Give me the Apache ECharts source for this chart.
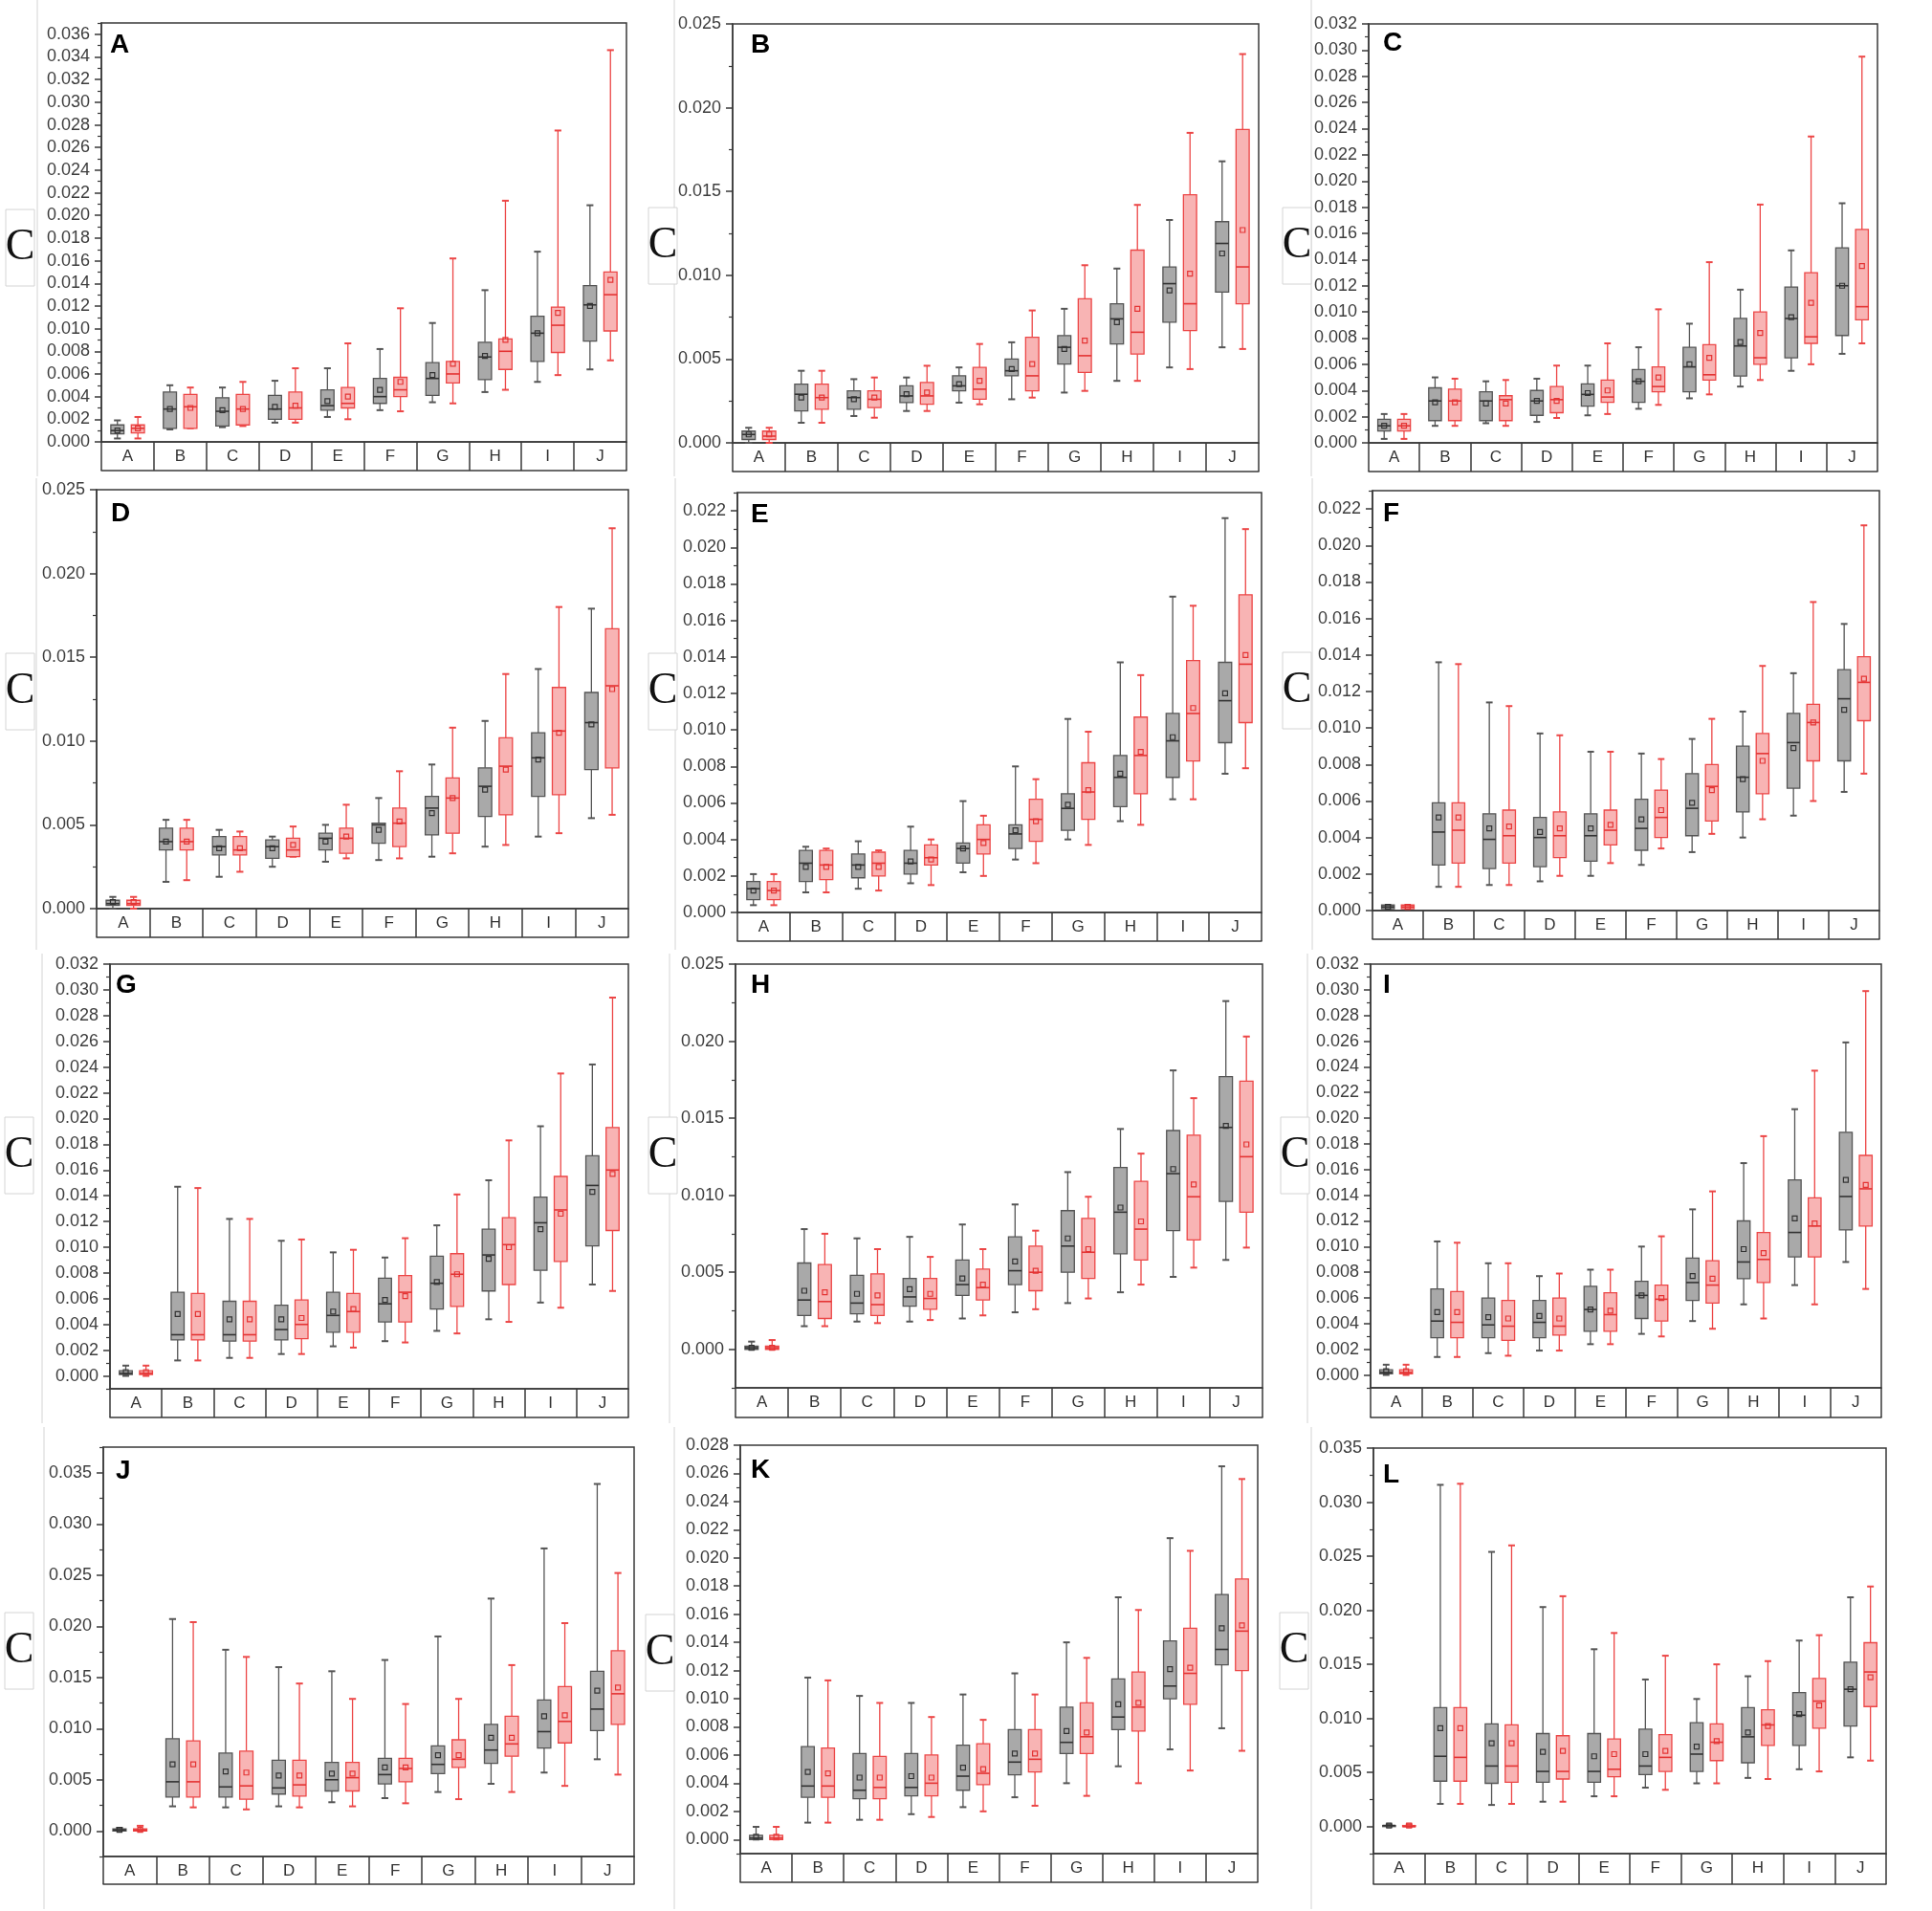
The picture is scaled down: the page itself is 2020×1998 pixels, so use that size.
<!DOCTYPE html>
<html>
<head>
<meta charset="utf-8">
<title>Box plots A-L</title>
<script src="https://cdn.jsdelivr.net/npm/echarts@6/dist/echarts.min.js"></script>
<style>
  html, body { margin: 0; padding: 0; background: #fff; }
  #chart { width: 2020px; height: 1998px; }
</style>
</head>
<body>
<div id="chart"></div>
<script>
'use strict';

var categories = ['A', 'B', 'C', 'D', 'E', 'F', 'G', 'H', 'I', 'J'];
var panelNames = ['A', 'B', 'C', 'D', 'E', 'F', 'G', 'H', 'I', 'J', 'K', 'L'];

// one row per category: [min, q1, median, q3, max, mean]
var grayA = [[0.0003,0.0007,0.0010,0.0015,0.0019,0.0010],[0.0011,0.0012,0.0029,0.0044,0.0050,0.0029],[0.0013,0.0014,0.0027,0.0039,0.0048,0.0028],[0.0017,0.0020,0.0029,0.0041,0.0054,0.0031],[0.0022,0.0028,0.0032,0.0046,0.0065,0.0036],[0.0028,0.0034,0.0040,0.0056,0.0082,0.0046],[0.0035,0.0041,0.0056,0.0070,0.0105,0.0059],[0.0044,0.0055,0.0075,0.0088,0.0134,0.0076],[0.0053,0.0071,0.0096,0.0111,0.0168,0.0096],[0.0064,0.0089,0.0121,0.0138,0.0209,0.0120]];
var redA = [[0.0003,0.0008,0.0012,0.0015,0.0022,0.0012],[0.0012,0.0012,0.0031,0.0042,0.0048,0.0030],[0.0014,0.0015,0.0029,0.0042,0.0053,0.0029],[0.0017,0.0020,0.0030,0.0044,0.0065,0.0032],[0.0020,0.0030,0.0034,0.0048,0.0087,0.0040],[0.0027,0.0040,0.0046,0.0057,0.0118,0.0053],[0.0034,0.0052,0.0060,0.0071,0.0162,0.0069],[0.0046,0.0064,0.0080,0.0091,0.0213,0.0090],[0.0059,0.0079,0.0103,0.0119,0.0275,0.0114],[0.0072,0.0098,0.0130,0.0150,0.0346,0.0143]];

var grayB = [[0.0000,0.0002,0.0005,0.0007,0.0009,0.0005],[0.0012,0.0019,0.0029,0.0035,0.0043,0.0027],[0.0016,0.0020,0.0027,0.0031,0.0038,0.0026],[0.0019,0.0024,0.0028,0.0034,0.0039,0.0029],[0.0024,0.0031,0.0034,0.0040,0.0045,0.0035],[0.0026,0.0040,0.0043,0.0050,0.0060,0.0044],[0.0030,0.0047,0.0057,0.0064,0.0080,0.0056],[0.0037,0.0059,0.0074,0.0083,0.0104,0.0072],[0.0045,0.0072,0.0095,0.0105,0.0133,0.0091],[0.0057,0.0090,0.0119,0.0132,0.0168,0.0113]];
var redB = [[0.0000,0.0002,0.0004,0.0007,0.0009,0.0005],[0.0012,0.0020,0.0027,0.0035,0.0043,0.0027],[0.0015,0.0021,0.0026,0.0031,0.0039,0.0027],[0.0019,0.0023,0.0028,0.0036,0.0046,0.0030],[0.0023,0.0026,0.0032,0.0045,0.0059,0.0037],[0.0027,0.0031,0.0040,0.0063,0.0079,0.0047],[0.0031,0.0042,0.0052,0.0086,0.0106,0.0061],[0.0037,0.0053,0.0066,0.0115,0.0142,0.0080],[0.0044,0.0067,0.0083,0.0148,0.0185,0.0101],[0.0056,0.0083,0.0105,0.0187,0.0232,0.0127]];

var grayC = [[0.0003,0.0009,0.0013,0.0018,0.0022,0.0013],[0.0013,0.0017,0.0032,0.0042,0.0050,0.0031],[0.0015,0.0017,0.0032,0.0039,0.0047,0.0030],[0.0016,0.0021,0.0032,0.0040,0.0049,0.0032],[0.0021,0.0028,0.0037,0.0045,0.0059,0.0038],[0.0026,0.0031,0.0047,0.0056,0.0073,0.0047],[0.0034,0.0039,0.0058,0.0073,0.0091,0.0060],[0.0043,0.0051,0.0074,0.0095,0.0117,0.0077],[0.0055,0.0065,0.0095,0.0119,0.0147,0.0096],[0.0068,0.0082,0.0120,0.0149,0.0183,0.0120]];
var redC = [[0.0003,0.0009,0.0013,0.0018,0.0022,0.0013],[0.0013,0.0017,0.0032,0.0041,0.0049,0.0031],[0.0013,0.0017,0.0033,0.0036,0.0048,0.0030],[0.0019,0.0023,0.0033,0.0043,0.0059,0.0032],[0.0022,0.0031,0.0035,0.0048,0.0076,0.0040],[0.0029,0.0039,0.0043,0.0058,0.0102,0.0050],[0.0037,0.0048,0.0052,0.0075,0.0138,0.0065],[0.0048,0.0060,0.0065,0.0100,0.0182,0.0084],[0.0060,0.0076,0.0081,0.0130,0.0234,0.0107],[0.0076,0.0094,0.0104,0.0163,0.0295,0.0135]];

var grayD = [[0.0000,0.0002,0.0003,0.0005,0.0007,0.0004],[0.0016,0.0035,0.0040,0.0048,0.0053,0.0040],[0.0019,0.0032,0.0037,0.0043,0.0047,0.0036],[0.0025,0.0030,0.0037,0.0041,0.0043,0.0036],[0.0028,0.0035,0.0042,0.0045,0.0050,0.0040],[0.0029,0.0039,0.0050,0.0051,0.0066,0.0047],[0.0031,0.0044,0.0060,0.0067,0.0086,0.0057],[0.0037,0.0055,0.0073,0.0084,0.0112,0.0071],[0.0043,0.0067,0.0090,0.0105,0.0143,0.0089],[0.0054,0.0083,0.0111,0.0129,0.0179,0.0110]];
var redD = [[0.0000,0.0002,0.0003,0.0005,0.0007,0.0004],[0.0017,0.0035,0.0040,0.0048,0.0053,0.0040],[0.0022,0.0032,0.0035,0.0043,0.0046,0.0036],[0.0031,0.0031,0.0035,0.0042,0.0049,0.0038],[0.0030,0.0033,0.0042,0.0048,0.0062,0.0043],[0.0030,0.0037,0.0051,0.0060,0.0082,0.0052],[0.0033,0.0045,0.0066,0.0078,0.0108,0.0066],[0.0038,0.0056,0.0085,0.0102,0.0140,0.0083],[0.0045,0.0068,0.0106,0.0132,0.0180,0.0105],[0.0056,0.0084,0.0133,0.0167,0.0227,0.0131]];

var grayE = [[0.0004,0.0007,0.0013,0.0017,0.0021,0.0012],[0.0011,0.0017,0.0027,0.0034,0.0036,0.0025],[0.0013,0.0019,0.0026,0.0032,0.0039,0.0025],[0.0016,0.0021,0.0027,0.0034,0.0047,0.0028],[0.0022,0.0027,0.0035,0.0038,0.0061,0.0035],[0.0029,0.0035,0.0043,0.0048,0.0080,0.0045],[0.0040,0.0045,0.0057,0.0065,0.0106,0.0059],[0.0050,0.0058,0.0074,0.0086,0.0137,0.0076],[0.0062,0.0074,0.0094,0.0109,0.0173,0.0096],[0.0076,0.0093,0.0116,0.0137,0.0216,0.0120]];
var redE = [[0.0004,0.0007,0.0012,0.0017,0.0021,0.0012],[0.0011,0.0018,0.0026,0.0034,0.0035,0.0025],[0.0012,0.0020,0.0027,0.0033,0.0034,0.0025],[0.0015,0.0026,0.0030,0.0037,0.0040,0.0029],[0.0020,0.0032,0.0040,0.0048,0.0053,0.0038],[0.0027,0.0039,0.0051,0.0062,0.0073,0.0050],[0.0037,0.0051,0.0066,0.0082,0.0099,0.0067],[0.0048,0.0065,0.0086,0.0107,0.0130,0.0088],[0.0062,0.0083,0.0109,0.0138,0.0168,0.0112],[0.0079,0.0104,0.0136,0.0174,0.0210,0.0141]];

var grayF = [[0.0001,0.0001,0.0002,0.0003,0.0003,0.0002],[0.0013,0.0025,0.0043,0.0059,0.0136,0.0051],[0.0014,0.0023,0.0039,0.0053,0.0114,0.0045],[0.0016,0.0024,0.0040,0.0051,0.0097,0.0043],[0.0019,0.0027,0.0041,0.0053,0.0087,0.0045],[0.0025,0.0033,0.0045,0.0061,0.0086,0.0050],[0.0032,0.0041,0.0056,0.0075,0.0094,0.0059],[0.0040,0.0054,0.0073,0.0090,0.0109,0.0072],[0.0052,0.0067,0.0092,0.0108,0.0130,0.0089],[0.0065,0.0082,0.0116,0.0132,0.0157,0.0110]];
var redF = [[0.0001,0.0001,0.0002,0.0003,0.0003,0.0002],[0.0013,0.0026,0.0044,0.0059,0.0135,0.0051],[0.0014,0.0026,0.0041,0.0055,0.0112,0.0046],[0.0019,0.0029,0.0041,0.0054,0.0096,0.0045],[0.0026,0.0036,0.0044,0.0055,0.0087,0.0047],[0.0034,0.0040,0.0051,0.0066,0.0083,0.0055],[0.0042,0.0049,0.0068,0.0080,0.0105,0.0066],[0.0050,0.0064,0.0086,0.0097,0.0134,0.0082],[0.0060,0.0082,0.0103,0.0113,0.0169,0.0103],[0.0075,0.0104,0.0125,0.0139,0.0211,0.0127]];

var grayG = [[0.0000,0.0001,0.0002,0.0004,0.0008,0.0003],[0.0012,0.0028,0.0032,0.0065,0.0147,0.0048],[0.0014,0.0027,0.0032,0.0058,0.0122,0.0044],[0.0017,0.0028,0.0036,0.0055,0.0105,0.0044],[0.0023,0.0034,0.0047,0.0065,0.0096,0.0050],[0.0027,0.0042,0.0056,0.0076,0.0092,0.0059],[0.0035,0.0052,0.0072,0.0093,0.0117,0.0073],[0.0044,0.0066,0.0094,0.0114,0.0152,0.0091],[0.0057,0.0082,0.0119,0.0139,0.0194,0.0114],[0.0071,0.0101,0.0148,0.0171,0.0242,0.0143]];
var redG = [[0.0000,0.0001,0.0002,0.0004,0.0008,0.0003],[0.0012,0.0028,0.0032,0.0064,0.0146,0.0048],[0.0014,0.0027,0.0032,0.0058,0.0122,0.0044],[0.0017,0.0029,0.0040,0.0059,0.0106,0.0045],[0.0022,0.0034,0.0050,0.0064,0.0098,0.0052],[0.0026,0.0042,0.0065,0.0078,0.0107,0.0062],[0.0033,0.0054,0.0079,0.0095,0.0141,0.0079],[0.0042,0.0071,0.0102,0.0123,0.0183,0.0100],[0.0053,0.0089,0.0129,0.0155,0.0235,0.0126],[0.0066,0.0113,0.0160,0.0193,0.0294,0.0157]];

var grayH = [[0.0000,0.0000,0.0001,0.0002,0.0005,0.0001],[0.0015,0.0022,0.0032,0.0056,0.0078,0.0038],[0.0018,0.0023,0.0030,0.0048,0.0072,0.0036],[0.0018,0.0028,0.0034,0.0046,0.0073,0.0039],[0.0020,0.0035,0.0042,0.0058,0.0081,0.0046],[0.0024,0.0042,0.0051,0.0073,0.0094,0.0057],[0.0030,0.0050,0.0067,0.0090,0.0115,0.0072],[0.0037,0.0062,0.0089,0.0118,0.0143,0.0092],[0.0047,0.0077,0.0114,0.0142,0.0181,0.0117],[0.0058,0.0096,0.0144,0.0177,0.0226,0.0145]];
var redH = [[0.0000,0.0000,0.0001,0.0002,0.0006,0.0001],[0.0015,0.0020,0.0031,0.0055,0.0075,0.0037],[0.0017,0.0022,0.0029,0.0049,0.0065,0.0035],[0.0019,0.0026,0.0033,0.0046,0.0060,0.0036],[0.0022,0.0032,0.0040,0.0052,0.0065,0.0042],[0.0026,0.0038,0.0050,0.0067,0.0077,0.0051],[0.0033,0.0046,0.0063,0.0085,0.0099,0.0065],[0.0042,0.0058,0.0078,0.0109,0.0127,0.0083],[0.0053,0.0071,0.0099,0.0139,0.0163,0.0107],[0.0066,0.0089,0.0125,0.0174,0.0203,0.0133]];

var grayI = [[0.0000,0.0001,0.0002,0.0004,0.0008,0.0003],[0.0014,0.0029,0.0042,0.0067,0.0104,0.0049],[0.0017,0.0029,0.0039,0.0060,0.0087,0.0045],[0.0019,0.0029,0.0041,0.0058,0.0077,0.0046],[0.0024,0.0034,0.0051,0.0069,0.0082,0.0051],[0.0032,0.0044,0.0062,0.0073,0.0100,0.0062],[0.0042,0.0058,0.0072,0.0091,0.0129,0.0077],[0.0055,0.0075,0.0088,0.0120,0.0165,0.0098],[0.0070,0.0092,0.0111,0.0152,0.0207,0.0122],[0.0088,0.0113,0.0139,0.0189,0.0259,0.0152]];
var redI = [[0.0000,0.0001,0.0002,0.0004,0.0008,0.0003],[0.0014,0.0029,0.0041,0.0065,0.0103,0.0049],[0.0015,0.0027,0.0038,0.0058,0.0087,0.0044],[0.0019,0.0031,0.0038,0.0060,0.0079,0.0044],[0.0024,0.0034,0.0047,0.0064,0.0082,0.0050],[0.0030,0.0042,0.0059,0.0070,0.0108,0.0060],[0.0036,0.0056,0.0070,0.0089,0.0143,0.0075],[0.0044,0.0072,0.0090,0.0111,0.0186,0.0095],[0.0055,0.0092,0.0116,0.0138,0.0237,0.0118],[0.0067,0.0116,0.0145,0.0171,0.0299,0.0148]];

var grayJ = [[0.0000,0.0000,0.0001,0.0002,0.0003,0.0001],[0.0024,0.0033,0.0048,0.0090,0.0207,0.0065],[0.0023,0.0033,0.0043,0.0076,0.0177,0.0058],[0.0024,0.0036,0.0042,0.0069,0.0160,0.0054],[0.0028,0.0039,0.0050,0.0067,0.0156,0.0056],[0.0032,0.0046,0.0055,0.0071,0.0167,0.0062],[0.0038,0.0056,0.0065,0.0083,0.0190,0.0074],[0.0046,0.0066,0.0079,0.0104,0.0227,0.0091],[0.0057,0.0081,0.0097,0.0128,0.0276,0.0112],[0.0070,0.0098,0.0119,0.0156,0.0339,0.0137]];
var redJ = [[0.0000,0.0000,0.0001,0.0002,0.0005,0.0001],[0.0023,0.0033,0.0048,0.0088,0.0204,0.0065],[0.0021,0.0031,0.0044,0.0078,0.0170,0.0057],[0.0023,0.0034,0.0045,0.0069,0.0144,0.0054],[0.0024,0.0039,0.0052,0.0067,0.0129,0.0056],[0.0027,0.0048,0.0061,0.0071,0.0124,0.0062],[0.0031,0.0062,0.0070,0.0089,0.0129,0.0074],[0.0038,0.0073,0.0085,0.0112,0.0162,0.0091],[0.0044,0.0086,0.0107,0.0141,0.0203,0.0113],[0.0055,0.0104,0.0134,0.0176,0.0252,0.0140]];

var grayK = [[0.0000,0.0000,0.0001,0.0003,0.0009,0.0002],[0.0012,0.0030,0.0038,0.0066,0.0115,0.0048],[0.0014,0.0029,0.0035,0.0061,0.0102,0.0044],[0.0018,0.0031,0.0037,0.0061,0.0097,0.0045],[0.0023,0.0035,0.0045,0.0067,0.0103,0.0051],[0.0030,0.0046,0.0055,0.0078,0.0118,0.0061],[0.0040,0.0061,0.0069,0.0094,0.0140,0.0077],[0.0052,0.0078,0.0087,0.0114,0.0172,0.0096],[0.0064,0.0100,0.0109,0.0141,0.0214,0.0121],[0.0079,0.0124,0.0135,0.0174,0.0265,0.0150]];
var redK = [[0.0000,0.0000,0.0001,0.0003,0.0009,0.0002],[0.0012,0.0030,0.0038,0.0065,0.0113,0.0047],[0.0014,0.0029,0.0037,0.0059,0.0097,0.0044],[0.0016,0.0031,0.0040,0.0060,0.0087,0.0044],[0.0020,0.0039,0.0047,0.0068,0.0085,0.0050],[0.0024,0.0048,0.0057,0.0078,0.0103,0.0061],[0.0031,0.0061,0.0073,0.0097,0.0129,0.0076],[0.0040,0.0077,0.0094,0.0119,0.0163,0.0097],[0.0049,0.0096,0.0118,0.0150,0.0205,0.0122],[0.0063,0.0120,0.0148,0.0185,0.0256,0.0152]];

var grayL = [[0.0000,0.0000,0.0001,0.0001,0.0002,0.0001],[0.0021,0.0042,0.0065,0.0110,0.0316,0.0091],[0.0020,0.0040,0.0056,0.0095,0.0254,0.0077],[0.0023,0.0041,0.0051,0.0086,0.0203,0.0069],[0.0028,0.0041,0.0051,0.0086,0.0164,0.0065],[0.0036,0.0048,0.0056,0.0090,0.0136,0.0067],[0.0040,0.0051,0.0067,0.0096,0.0118,0.0074],[0.0045,0.0059,0.0083,0.0110,0.0139,0.0087],[0.0053,0.0075,0.0103,0.0124,0.0172,0.0104],[0.0064,0.0093,0.0127,0.0152,0.0212,0.0127]];
var redL = [[0.0000,0.0000,0.0000,0.0001,0.0002,0.0001],[0.0021,0.0042,0.0064,0.0110,0.0317,0.0091],[0.0021,0.0041,0.0056,0.0094,0.0260,0.0077],[0.0023,0.0044,0.0051,0.0084,0.0213,0.0070],[0.0028,0.0046,0.0053,0.0081,0.0179,0.0067],[0.0034,0.0051,0.0064,0.0085,0.0158,0.0070],[0.0040,0.0061,0.0078,0.0095,0.0150,0.0079],[0.0044,0.0075,0.0094,0.0108,0.0153,0.0093],[0.0051,0.0091,0.0116,0.0137,0.0177,0.0112],[0.0061,0.0111,0.0143,0.0170,0.0222,0.0138]];

// y axis of each panel: range, label step and last labelled value
var axisMin = [0, 0, 0, 0, 0, 0, -0.001, -0.0025, -0.001, -0.0025, -0.001, -0.0025];
var axisMax = [0.037, 0.025, 0.032, 0.025, 0.023, 0.023, 0.032, 0.025, 0.032, 0.0375, 0.028, 0.035];
var labelStep = [0.002, 0.005, 0.002, 0.005, 0.002, 0.002, 0.002, 0.005, 0.002, 0.005, 0.002, 0.005];
var labelTop = [0.036, 0.025, 0.032, 0.025, 0.022, 0.022, 0.032, 0.025, 0.032, 0.035, 0.028, 0.035];

var grays = [grayA, grayB, grayC, grayD, grayE, grayF, grayG, grayH, grayI, grayJ, grayK, grayL];
var reds = [redA, redB, redC, redD, redE, redF, redG, redH, redI, redJ, redK, redL];

// page layout: plot frame [left, top, right, x axis y, strip bottom]
var frames = [
  [106, 24, 655, 462, 492], [766, 25, 1316, 463, 493], [1431, 25, 1963, 463, 493],
  [101, 512, 657, 950, 980], [771, 515, 1319, 954, 984], [1435, 513, 1965, 952, 982],
  [115, 1008, 657, 1452, 1482], [769, 1008, 1320, 1451, 1482], [1433, 1008, 1967, 1451, 1482],
  [108, 1513, 663, 1941, 1970], [774, 1511, 1315, 1938, 1968], [1436, 1514, 1972, 1938, 1970]
];
// panel letter [x, cap centre y]
var letterPos = [[115, 47], [785, 47], [1446, 45], [116, 537], [785, 538], [1446, 537],
  [121, 1030], [785, 1030], [1446, 1030], [121, 1538], [785, 1537], [1446, 1542]];
// "C" tag [centre x, centre y] and faint image border x
var tagPos = [[21, 259], [693, 257], [1356, 257], [21, 723], [693, 723], [1356, 722],
  [20, 1208], [693, 1208], [1354, 1208], [20, 1726], [690, 1728], [1353, 1726]];
var borderX = [39, 705, 1371, 38, 706, 1372, 44, 700, 1367, 46, 705, 1371];
var rowSpan = [[0, 498], [500, 993], [997, 1488], [1492, 1996]];

var font = 'Liberation Sans, Arial, sans-serif';
var axisColor = '#3a3a3a';

function stepValues(from, to, step, oddOnly) {
  var out = [];
  var kFrom = Math.ceil(from / step - 1e-6);
  var kTo = Math.floor(to / step + 1e-6);
  for (var k = kFrom; k <= kTo; k++) {
    if (oddOnly && Math.abs(k) % 2 !== 1) continue;
    out.push(Math.round(k * step * 1e6) / 1e6);
  }
  return out;
}

function boxRenderer(lineColor, fillColor, midColor, side) {
  return function (params, api) {
    var idx = api.value(0);
    var band = api.size([1, 0])[0];
    var cx = api.coord([idx, 0])[0] + side * band * 0.195;
    var half = band * 0.125;
    var capHalf = band * 0.065;
    function py(dim) { return api.coord([idx, api.value(dim)])[1]; }
    var yMin = py(1), yQ1 = py(2), yMed = py(3), yQ3 = py(4), yMax = py(5), yMean = py(6);
    return {
      type: 'group',
      children: [
        { type: 'line', shape: { x1: cx, y1: yQ3, x2: cx, y2: yMax }, style: { stroke: lineColor, lineWidth: 1.3 } },
        { type: 'line', shape: { x1: cx, y1: yQ1, x2: cx, y2: yMin }, style: { stroke: lineColor, lineWidth: 1.3 } },
        { type: 'line', shape: { x1: cx - capHalf, y1: yMax, x2: cx + capHalf, y2: yMax }, style: { stroke: lineColor, lineWidth: 2 } },
        { type: 'line', shape: { x1: cx - capHalf, y1: yMin, x2: cx + capHalf, y2: yMin }, style: { stroke: lineColor, lineWidth: 2 } },
        { type: 'rect', shape: { x: cx - half, y: yQ3, width: half * 2, height: Math.max(yQ1 - yQ3, 1) },
          style: { fill: fillColor, stroke: lineColor, lineWidth: 1.3 } },
        { type: 'line', shape: { x1: cx - half, y1: yMed, x2: cx + half, y2: yMed }, style: { stroke: midColor, lineWidth: 1.6 } },
        { type: 'rect', shape: { x: cx - 2.5, y: yMean - 2.5, width: 5, height: 5 },
          style: { fill: 'none', stroke: midColor, lineWidth: 1.2 } }
      ]
    };
  };
}

function toItems(rows) {
  return rows.map(function (r, i) { return [i].concat(r); });
}

var grids = [], xAxes = [], yAxes = [], series = [], graphics = [];

for (var p = 0; p < 12; p++) {
  var f = frames[p];
  grids.push({
    left: f[0], top: f[1], width: f[2] - f[0], height: f[3] - f[1],
    show: true, borderColor: axisColor, borderWidth: 1.5, backgroundColor: 'transparent',
    containLabel: false, outerBoundsMode: 'none'
  });

  // category strip: ticks form the cell walls, second axis closes the bottom
  xAxes.push({
    gridIndex: p, type: 'category', data: categories, boundaryGap: true,
    axisLine: { onZero: false, lineStyle: { color: axisColor, width: 1.5 } },
    axisTick: { show: true, interval: 0, length: f[4] - f[3], lineStyle: { color: axisColor, width: 1.5 } },
    axisLabel: { interval: 0, margin: 7, color: '#333', fontSize: 17, fontFamily: font },
    splitLine: { show: false }
  });
  xAxes.push({
    gridIndex: p, type: 'category', data: categories, position: 'bottom', offset: f[4] - f[3],
    axisLine: { show: true, onZero: false, lineStyle: { color: axisColor, width: 1.5 } },
    axisTick: { show: false }, axisLabel: { show: false }, splitLine: { show: false }
  });

  var major = stepValues(0, labelTop[p], labelStep[p], false);
  var minor = stepValues(axisMin[p], axisMax[p], labelStep[p] / 2, true);
  yAxes.push({
    gridIndex: p, type: 'value', min: axisMin[p], max: axisMax[p], position: 'left',
    axisLine: { show: true, onZero: false, lineStyle: { color: axisColor, width: 1.5 } },
    axisTick: { show: true, length: 7, customValues: major, lineStyle: { color: axisColor, width: 1.5 } },
    axisLabel: {
      customValues: major, margin: 12, color: '#3d3d3d', fontSize: 18, fontFamily: font,
      formatter: function (v) { return v.toFixed(3); }
    },
    splitLine: { show: false }
  });
  yAxes.push({
    gridIndex: p, type: 'value', min: axisMin[p], max: axisMax[p], position: 'left',
    axisLine: { show: false, onZero: false },
    axisTick: { show: true, length: 4, customValues: minor, lineStyle: { color: axisColor, width: 1.2 } },
    axisLabel: { show: false }, splitLine: { show: false }
  });

  series.push({
    type: 'custom', name: 'gray ' + panelNames[p], xAxisIndex: 2 * p, yAxisIndex: 2 * p,
    renderItem: boxRenderer('#555555', '#a9a9a9', '#333333', -1),
    encode: { x: 0, y: [1, 2, 3, 4, 5, 6] },
    data: toItems(grays[p])
  });
  series.push({
    type: 'custom', name: 'red ' + panelNames[p], xAxisIndex: 2 * p, yAxisIndex: 2 * p,
    renderItem: boxRenderer('#ec4646', '#f8b4b4', '#e43434', 1),
    encode: { x: 0, y: [1, 2, 3, 4, 5, 6] },
    data: toItems(reds[p])
  });

  // faint border of the original image tile and the "C" tag
  var row = rowSpan[Math.floor(p / 3)];
  graphics.push({
    type: 'line', silent: true, z: 0,
    shape: { x1: borderX[p], y1: row[0], x2: borderX[p], y2: row[1] },
    style: { stroke: '#d4d4d4', lineWidth: 1 }
  });
  var t = tagPos[p];
  graphics.push({
    type: 'rect', silent: true, z: 1,
    shape: { x: t[0] - 15, y: t[1] - 40, width: 30, height: 80 },
    style: { fill: '#fff', stroke: '#d4d4d4', lineWidth: 1 }
  });
  graphics.push({
    type: 'text', silent: true, z: 2, x: t[0], y: t[1],
    style: { text: 'C', font: '46px "Liberation Serif", "Times New Roman", serif', fill: '#111',
      align: 'center', verticalAlign: 'middle', textAlign: 'center', textVerticalAlign: 'middle' }
  });
  var lp = letterPos[p];
  graphics.push({
    type: 'text', silent: true, z: 10, x: lp[0], y: lp[1],
    style: { text: panelNames[p], font: 'bold 28px "Liberation Sans", Arial, sans-serif', fill: '#000',
      align: 'left', verticalAlign: 'middle', textAlign: 'left', textVerticalAlign: 'middle' }
  });
}

var chart = echarts.init(document.getElementById('chart'), null, { renderer: 'canvas' });
chart.setOption({
  backgroundColor: '#fff',
  animation: false,
  grid: grids,
  xAxis: xAxes,
  yAxis: yAxes,
  series: series,
  graphic: graphics
});
window.onresize = chart.resize;
</script>
</body>
</html>
